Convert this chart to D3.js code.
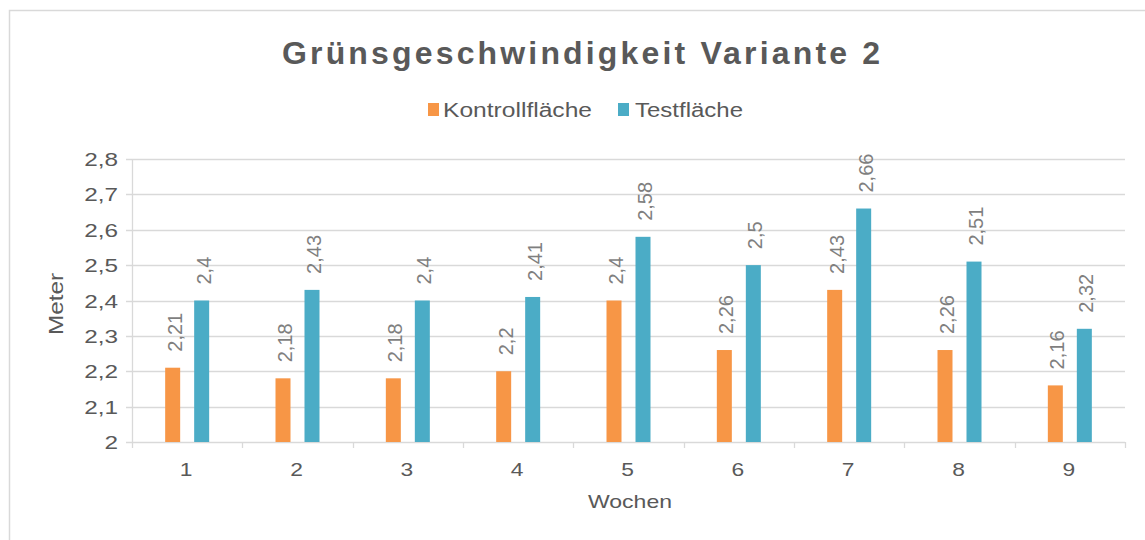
<!DOCTYPE html>
<html><head><meta charset="utf-8">
<script src="https://cdn.jsdelivr.net/npm/d3@7"></script>
<style>body{margin:0;background:#fff;} text{font-family:"Liberation Sans",Arial,sans-serif;}</style>
</head><body><svg id="c" width="1145" height="540"></svg>
<script>
const categories = ["1","2","3","4","5","6","7","8","9"];
const kontroll = [2.21,2.18,2.18,2.2,2.4,2.26,2.43,2.26,2.16];
const test = [2.4,2.43,2.4,2.41,2.58,2.5,2.66,2.51,2.32];
const seriesNames = ["Kontrollfläche","Testfläche"];
const colors = ["#f79646","#4bacc6"];
const yTicks = [2,2.1,2.2,2.3,2.4,2.5,2.6,2.7,2.8];

const svg = d3.select("#c");
const fmt = v => String(v).replace(".", ",");
function stretch(sel, f){
  sel.each(function(){
    const len = this.getComputedTextLength();
    d3.select(this).attr("textLength", len*f).attr("lengthAdjust","spacingAndGlyphs");
  });
}
svg.append("rect").attr("x",9.5).attr("y",10.5).attr("width",1160).attr("height",560)
  .attr("fill","#fff").attr("stroke","#d9d9d9").attr("stroke-width",1.5);

const L=132, R=1125, T=159, B=442;
const x = d3.scaleBand().domain(categories).range([L,R]);
const y = d3.scaleLinear().domain([2,2.8]).range([B,T]);

svg.append("g").selectAll("line").data(yTicks).join("line")
  .attr("x1",L-6).attr("x2",R).attr("y1",d=>Math.round(y(d))+0.5).attr("y2",d=>Math.round(y(d))+0.5)
  .attr("stroke","#d9d9d9").attr("stroke-width",1.3);
svg.append("line").attr("x1",L+0.5).attr("x2",L+0.5).attr("y1",T).attr("y2",B).attr("stroke","#d9d9d9").attr("stroke-width",1.3);
const bounds = categories.map(c=>x(c)).concat([R]);
svg.append("g").selectAll("line").data(bounds).join("line")
  .attr("x1",d=>Math.round(d)+0.5).attr("x2",d=>Math.round(d)+0.5).attr("y1",B).attr("y2",B+6)
  .attr("stroke","#d9d9d9").attr("stroke-width",1.3);

svg.append("g").selectAll("text").data(yTicks).join("text")
  .attr("x",118).attr("y",d=>y(d)+7).attr("text-anchor","end")
  .attr("font-size",19).attr("fill","#595959").text(fmt).call(stretch,1.28);
svg.append("g").selectAll("text").data(categories).join("text")
  .attr("x",d=>x(d)+x.bandwidth()/2-1).attr("y",476).attr("text-anchor","middle")
  .attr("font-size",19).attr("fill","#595959").text(d=>d).call(stretch,1.2);

const bw = 15, gap = 14;
const series = [kontroll,test];
series.forEach((vals,si)=>{
  const off = si===0 ? -(gap/2+bw) : gap/2;
  const g = svg.append("g");
  g.selectAll("rect").data(vals).join("rect")
    .attr("x",(d,i)=>x(categories[i])+x.bandwidth()/2+off)
    .attr("y",d=>y(d)).attr("width",bw).attr("height",d=>B-y(d))
    .attr("fill",colors[si]);
  g.selectAll("text").data(vals).join("text")
    .attr("transform",(d,i)=>`translate(${x(categories[i])+x.bandwidth()/2+off+bw/2+9},${y(d)-16}) rotate(-90)`)
    .attr("font-size",20).attr("fill","#7f7f7f").attr("text-anchor","start").text(fmt);
});

svg.append("text").attr("x",581).attr("y",64).attr("text-anchor","middle")
  .attr("font-size",32).attr("font-weight","bold").attr("fill","#595959")
  .attr("textLength",598).attr("lengthAdjust","spacing")
  .text("Grünsgeschwindigkeit Variante 2");

const leg = [{x:428,tx:443,w:149},{x:618,tx:635,w:108}];
seriesNames.forEach((n,i)=>{
  svg.append("rect").attr("x",leg[i].x).attr("y",103).attr("width",11).attr("height",13).attr("fill",colors[i]);
  svg.append("text").attr("x",leg[i].tx).attr("y",117).attr("font-size",19.5).attr("fill","#595959")
    .attr("textLength",leg[i].w).attr("lengthAdjust","spacingAndGlyphs").text(n);
});

svg.append("text").attr("transform","translate(63,304) rotate(-90)").attr("text-anchor","middle")
  .attr("font-size",20.5).attr("fill","#595959").attr("textLength",62).attr("lengthAdjust","spacingAndGlyphs").text("Meter");
svg.append("text").attr("x",630).attr("y",508).attr("text-anchor","middle")
  .attr("font-size",19).attr("fill","#595959").attr("textLength",84).attr("lengthAdjust","spacingAndGlyphs").text("Wochen");
</script></body></html>
